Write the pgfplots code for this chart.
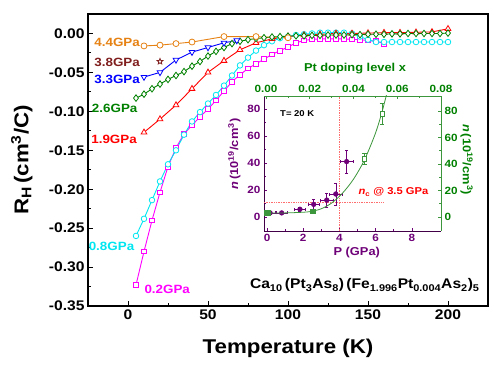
\documentclass[border=0pt]{standalone}
\usepackage{fontspec}
\setmainfont{Liberation Sans}[FakeStretch=1.12]
\usepackage{pgfplots}
\pgfplotsset{compat=1.18}
\definecolor{corange}{RGB}{230,130,20}
\definecolor{cbrown}{RGB}{128,30,30}
\definecolor{cblue}{RGB}{0,0,255}
\definecolor{cgreen}{RGB}{0,128,0}
\definecolor{cred}{RGB}{255,0,0}
\definecolor{ccyan}{RGB}{0,230,240}
\definecolor{cmag}{RGB}{255,0,255}
\definecolor{cpurple}{RGB}{110,0,120}
\definecolor{igreen}{RGB}{60,150,60}
\definecolor{cdot}{RGB}{255,110,110}
\pgfdeclareplotmark{ostar}{%
  \pgfpathmoveto{\pgfpointpolar{90}{\pgfplotmarksize}}%
  \pgfpathlineto{\pgfpointpolar{126}{0.45\pgfplotmarksize}}%
  \pgfpathlineto{\pgfpointpolar{162}{\pgfplotmarksize}}%
  \pgfpathlineto{\pgfpointpolar{198}{0.45\pgfplotmarksize}}%
  \pgfpathlineto{\pgfpointpolar{234}{\pgfplotmarksize}}%
  \pgfpathlineto{\pgfpointpolar{270}{0.45\pgfplotmarksize}}%
  \pgfpathlineto{\pgfpointpolar{306}{\pgfplotmarksize}}%
  \pgfpathlineto{\pgfpointpolar{342}{0.45\pgfplotmarksize}}%
  \pgfpathlineto{\pgfpointpolar{18}{\pgfplotmarksize}}%
  \pgfpathlineto{\pgfpointpolar{54}{0.45\pgfplotmarksize}}%
  \pgfpathclose\pgfusepathqfillstroke}
\begin{document}
\begin{tikzpicture}
\path (0,0) rectangle (500bp,366bp);
\begin{axis}[
  at={(88bp,60bp)}, anchor=south west,
  width=400bp, height=292bp, scale only axis,
  xmin=-25, xmax=225, ymin=-0.35, ymax=0.025,
  xtick={0,50,100,150,200}, minor x tick num=1,
  ytick={-0.35,-0.3,-0.25,-0.2,-0.15,-0.1,-0.05,0}, minor y tick num=1,
  tick align=inside, xtick pos=bottom, ytick pos=left,
  major tick length=4.5bp, minor tick length=2.5bp,
  every tick/.style={black, line width=0.9pt},
  axis line style={line width=1.3pt},
  /pgf/number format/assume math mode=true,
  yticklabel style={/pgf/number format/fixed, /pgf/number format/fixed zerofill, /pgf/number format/precision=2},
  ticklabel style={font=\fontsize{14}{14}\selectfont\bfseries},
  xlabel={Temperature (K)},
  ylabel={R\textsubscript{H}\,(cm\textsuperscript{3}/C)},
  label style={font=\fontsize{20}{20}\selectfont\bfseries},
  xlabel style={at={(axis description cs:0.5,-0.164)}, anchor=base},
  ylabel style={at={(axis description cs:-0.149,0.5)}, anchor=base},
  every axis plot/.append style={line width=0.9pt},
]
% 0.2 GPa
\addplot[cmag, mark=square*, mark size=2.4pt, mark options={solid, fill=white, line width=0.8pt}] coordinates {
(5,-0.323)(10,-0.280)(15,-0.240)(20,-0.204)(25,-0.171)(30,-0.147)(35,-0.129)(40,-0.118)
(45,-0.107)(50,-0.097)(55,-0.086)(60,-0.074)(65,-0.062)(70,-0.053)(75,-0.045)(80,-0.039)
(85,-0.033)(90,-0.027)(95,-0.022)(100,-0.0175)(105,-0.012)(110,-0.009)(115,-0.0075)(120,-0.007)
(125,-0.007)(130,-0.007)(135,-0.007)(140,-0.0075)(145,-0.008)(150,-0.009)(155,-0.010)(160,-0.013)};
% 0.8 GPa
\addplot[ccyan, mark=*, mark size=2.8pt, mark options={solid, fill=white, line width=0.8pt}] coordinates {
(5,-0.260)(10,-0.238)(15,-0.214)(20,-0.190)(25,-0.168)(30,-0.150)(35,-0.130)(40,-0.113)
(45,-0.101)(50,-0.090)(55,-0.079)(60,-0.067)(65,-0.054)(70,-0.041)(75,-0.031)(80,-0.022)
(85,-0.015)(90,-0.010)(95,-0.006)(100,-0.004)(105,-0.002)(110,-0.001)(115,0.000)(120,0.001)
(125,0.001)(130,0.001)(135,0.001)(140,0.000)(145,-0.004)(150,-0.008)(155,-0.011)(160,-0.011)
(165,-0.011)(170,-0.011)(175,-0.011)(180,-0.011)(185,-0.011)(190,-0.011)(195,-0.011)(200,-0.011)};
% 1.9 GPa
\addplot[cred, mark=triangle*, mark size=3.3pt, mark options={solid, fill=white, line width=0.8pt}] coordinates {
(10,-0.127)(20,-0.110)(30,-0.092)(40,-0.071)(50,-0.050)(60,-0.035)(70,-0.021)(80,-0.012)
(90,-0.007)(100,-0.004)(110,-0.002)(120,-0.001)(130,0.000)(140,0.000)(150,0.0005)(160,0.001)
(170,0.001)(180,0.0015)(190,0.002)(200,0.006)};
% 2.6 GPa
\addplot[cgreen, mark=diamond*, mark size=3.3pt, mark options={solid, fill=white, line width=0.8pt}] coordinates {
(5,-0.083)(10,-0.078)(15,-0.071)(20,-0.065)(25,-0.059)(30,-0.054)(35,-0.049)(40,-0.042)
(45,-0.036)(50,-0.029)(55,-0.023)(60,-0.018)(65,-0.013)(70,-0.010)(75,-0.008)(80,-0.0065)
(85,-0.0055)(90,-0.0045)(95,-0.004)(100,-0.0035)(105,-0.003)(110,-0.003)(115,-0.0025)(120,-0.0025)
(125,-0.002)(130,-0.002)(135,-0.002)(140,-0.0015)(145,-0.0015)(150,-0.001)(155,-0.001)(160,-0.001)
(165,-0.0005)(170,-0.0005)(175,0)(180,0)(185,0)(190,0)(195,0)(200,0.0005)};
% 3.3 GPa
\addplot[cblue, mark=triangle*, mark size=3.3pt, mark options={solid, fill=white, line width=0.8pt, rotate=180}] coordinates {
(10,-0.056)(20,-0.050)(30,-0.034)(40,-0.024)(50,-0.018)(60,-0.012)(68,-0.009)};
% 4.4 GPa
\addplot[corange, mark=*, mark size=3pt, mark options={solid, fill=white, line width=0.8pt}] coordinates {
(10,-0.016)(20,-0.015)(30,-0.013)(40,-0.011)(60,-0.004)(80,-0.004)(100,-0.0055)};
% 3.8 GPa
\addplot[cbrown, only marks, mark=ostar, mark size=3pt, mark options={solid, fill=white, line width=0.8pt}] coordinates {(20,-0.036)};
\begin{scope}[every node/.style={inner sep=0pt, font=\fontsize{12}{12}\selectfont\bfseries}]
\node[corange, anchor=east] at (axis cs:7.5,-0.0109) {4.4GPa};
\node[cbrown, anchor=east] at (axis cs:7.5,-0.0368) {3.8GPa};
\node[cblue, anchor=east] at (axis cs:7.5,-0.059) {3.3GPa};
\node[cgreen, anchor=east] at (axis cs:6,-0.0957) {2.6GPa};
\node[cred, anchor=east] at (axis cs:5.6,-0.136) {1.9GPa};
\node[ccyan, anchor=east] at (axis cs:4,-0.274) {0.8GPa};
\node[cmag, anchor=west] at (axis cs:10.2,-0.3286) {0.2GPa};
\end{scope}
\node[anchor=base, inner sep=0pt, font=\fontsize{14}{14}\selectfont\bfseries] at (axis cs:148,-0.328)
 {Ca\textsubscript{10}\,(Pt\textsubscript{3}As\textsubscript{8})\,(Fe\textsubscript{1.996}Pt\textsubscript{0.004}As\textsubscript{2})\textsubscript{5}};
\end{axis}
% inset: P axis (bottom, left)
\begin{axis}[
  at={(264bp,135bp)}, anchor=south west,
  width=177bp, height=135bp, scale only axis,
  xmin=-0.166, xmax=9.61, ymin=-10.4, ymax=89.6,
  axis x line*=bottom, axis y line*=left,
  every outer x axis line/.append style={-}, every outer y axis line/.append style={-},
  axis line style={-, draw=cpurple!60!black, line width=0.8pt},
  xtick pos=bottom, ytick pos=left,
  xtick={0,2,4,6,8}, ytick={0,20,40,60,80}, minor x tick num=1, minor y tick num=1,
  tick align=inside, major tick length=3bp, minor tick length=1.8bp,
  every tick/.style={cpurple, line width=0.6pt},
  /pgf/number format/assume math mode=true,
  ticklabel style={font=\fontsize{10.5}{10.5}\selectfont\bfseries, text=cpurple},
  xlabel={P (GPa)},
  ylabel={\textit{n}\,(10\textsuperscript{19}/cm\textsuperscript{3})},
  label style={font=\fontsize{11.5}{11.5}\selectfont\bfseries, text=cpurple},
  xlabel style={at={(axis description cs:0.524,-0.185)}, anchor=base},
  ylabel style={at={(axis description cs:-0.113,0.57)}, anchor=south},
]
\addplot[cdot, densely dotted, line width=0.7pt] coordinates {(4,-10.4)(4,89.6)};
\addplot[cdot, densely dotted, line width=0.7pt] coordinates {(-0.166,11)(6.4,11)};
\addplot[cpurple, only marks, mark=*, mark size=2.4pt,
  error bars/.cd, x dir=both, x explicit, y dir=both, y explicit,
  error bar style={cpurple, line width=0.6pt}, error mark options={rotate=90, mark size=1.5pt, cpurple}]
 coordinates {
 (0.17,3) +- (0.3,1)
 (0.81,3) +- (0.3,1)
 (1.82,5.7) +- (0.3,1.5)
 (2.58,9.3) +- (0.3,4)
 (3.3,12.5) +- (0.35,5)
 (3.8,17) +- (0.35,8)
 (4.4,41) +- (0.35,8.3)};
\node[anchor=center, font=\fontsize{8.5}{8.5}\selectfont\bfseries] at (axis cs:1.67,76.5) {T= 20 K};
\node[anchor=center, text=cred, font=\fontsize{10}{10}\selectfont\bfseries] at (axis cs:6.98,18.4)
 {\textit{n}\textsubscript{c} @ 3.5 GPa};
\end{axis}
% inset: doping axis (top, right)
\begin{axis}[
  at={(264bp,135bp)}, anchor=south west,
  width=177bp, height=135bp, scale only axis,
  xmin=-0.0009, xmax=0.08, ymin=-10.6, ymax=91.3,
  axis x line*=top, axis y line*=right,
  every outer x axis line/.append style={-}, every outer y axis line/.append style={-},
  axis line style={-, draw=igreen, line width=0.9pt},
  xtick pos=top, ytick pos=right, xticklabel pos=top, yticklabel pos=right,
  xtick={0,0.02,0.04,0.06,0.08}, ytick={0,20,40,60,80}, minor x tick num=1, minor y tick num=1,
  scaled x ticks=false,
  tick align=inside, major tick length=3bp, minor tick length=1.8bp,
  every tick/.style={igreen, line width=0.6pt},
  /pgf/number format/assume math mode=true,
  xticklabel style={/pgf/number format/fixed, /pgf/number format/fixed zerofill, /pgf/number format/precision=2},
  ticklabel style={font=\fontsize{10.5}{10.5}\selectfont\bfseries, text=cgreen},
  xlabel={Pt doping level x},
  ylabel={\textit{n}\,(10\textsuperscript{19}/cm\textsuperscript{3})},
  label style={font=\fontsize{11.5}{11.5}\selectfont\bfseries, text=cgreen},
  xlabel style={at={(axis description cs:0.514,1.18)}, anchor=base},
  ylabel style={rotate=180, at={(axis description cs:1.09,0.53)}, anchor=south},
]
\addplot[igreen, smooth, line width=0.8pt] coordinates {
(0,3)(0.005,3)(0.01,3.1)(0.015,3.4)(0.02,4.0)(0.025,6.0)(0.03,10.5)(0.035,18)(0.04,28.5)
(0.045,43)(0.05,63)(0.053,79)(0.0555,95)};
\addplot[igreen, only marks, mark=square*, mark size=2.2pt, mark options={fill=igreen}] coordinates {
(0,3.2)(0.0011,3.2)(0.0214,4.3)};
\addplot[igreen, only marks, mark=square*, mark size=2.2pt, mark options={fill=white},
  error bars/.cd, y dir=both, y explicit, error bar style={igreen, line width=0.6pt}]
 coordinates {(0.045,44) +- (0,4.5) (0.053,78) +- (0,8)};
\end{axis}
\draw[black, line width=1.3pt, line cap=rect] (88bp,352bp) -- (488bp,352bp) -- (488bp,60bp);
\end{tikzpicture}
\end{document}
